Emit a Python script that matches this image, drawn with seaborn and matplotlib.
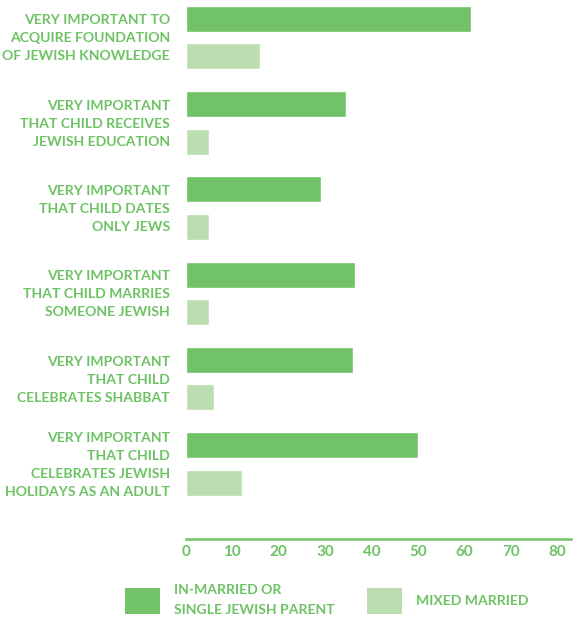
import matplotlib
matplotlib.use("Agg")
import matplotlib.pyplot as plt
import matplotlib.transforms as mtransforms
import seaborn as sns
import pandas as pd
from matplotlib.patches import Patch

categories = [
    "VERY IMPORTANT TO\nACQUIRE FOUNDATION\nOF JEWISH KNOWLEDGE",
    "VERY IMPORTANT\nTHAT CHILD RECEIVES\nJEWISH EDUCATION",
    "VERY IMPORTANT\nTHAT CHILD DATES\nONLY JEWS",
    "VERY IMPORTANT\nTHAT CHILD MARRIES\nSOMEONE JEWISH",
    "VERY IMPORTANT\nTHAT CHILD\nCELEBRATES SHABBAT",
    "VERY IMPORTANT\nTHAT CHILD\nCELEBRATES JEWISH\nHOLIDAYS AS AN ADULT",
]
series_names = ["IN-MARRIED OR\nSINGLE JEWISH PARENT", "MIXED MARRIED"]
inmarried = [61.5, 34.5, 29, 36.5, 36, 50]
mixed = [16, 5, 5, 5, 6, 12]
xticks = [0, 10, 20, 30, 40, 50, 60, 70, 80]

dark = "#72C268"
light = "#BBDDB0"
textc = "#6DC264"

df = pd.DataFrame({
    "category": categories * 2,
    "group": [series_names[0]] * len(categories) + [series_names[1]] * len(categories),
    "value": inmarried + mixed,
})

sns.set_style("white")
plt.rcParams["font.family"] = ["Lato", "DejaVu Sans"]

W, H = 574, 619
fig = plt.figure(figsize=(W / 100, H / 100), dpi=100)
ax = fig.add_axes([186 / W, 1 - 539 / H, 385 / W, 539 / H])

sns.barplot(data=df, y="category", x="value", hue="group", orient="h",
            palette=[dark, light], width=0.88, gap=0.307, errorbar=None,
            legend=False, ax=ax, saturation=1)

ax.set_xlim(0, 83)
ax.set_ylim(5.879, -0.4396)
ax.set_xlabel("")
ax.set_ylabel("")
ax.set_xticks(xticks)
ax.set_xticklabels([str(t) for t in xticks])
for s in ["top", "right", "left"]:
    ax.spines[s].set_visible(False)
ax.spines["bottom"].set_color(dark)
ax.spines["bottom"].set_linewidth(1.8)
ax.tick_params(axis="x", length=0, pad=4, labelsize=11, labelcolor=textc)
ax.tick_params(axis="y", length=0, pad=11.5, labelsize=10.1, labelcolor=textc)
for lab in ax.get_xticklabels():
    lab.set_fontweight("bold")
shift = mtransforms.ScaledTranslation(0, 3 / 100, fig.dpi_scale_trans)
for lab in ax.get_yticklabels():
    lab.set_fontweight("bold")
    lab.set_linespacing(1.6)
    lab.set_horizontalalignment("right")
    lab.set_transform(lab.get_transform() + shift)

handles = [Patch(facecolor=dark, edgecolor="none"), Patch(facecolor=light, edgecolor="none")]
leg = fig.legend(handles, series_names, loc="upper left",
                 bbox_to_anchor=(125 / W, 1 - 584 / H), ncol=2, frameon=False,
                 borderpad=0, borderaxespad=0, handlelength=2.5, handleheight=2.4,
                 handletextpad=1.0, columnspacing=2.3,
                 prop={"family": ["Lato", "DejaVu Sans"], "weight": "bold", "size": 10.1})
for t in leg.get_texts():
    t.set_color(textc)
    t.set_linespacing(1.85)

fig.savefig("out.png", dpi=100, facecolor="white")
